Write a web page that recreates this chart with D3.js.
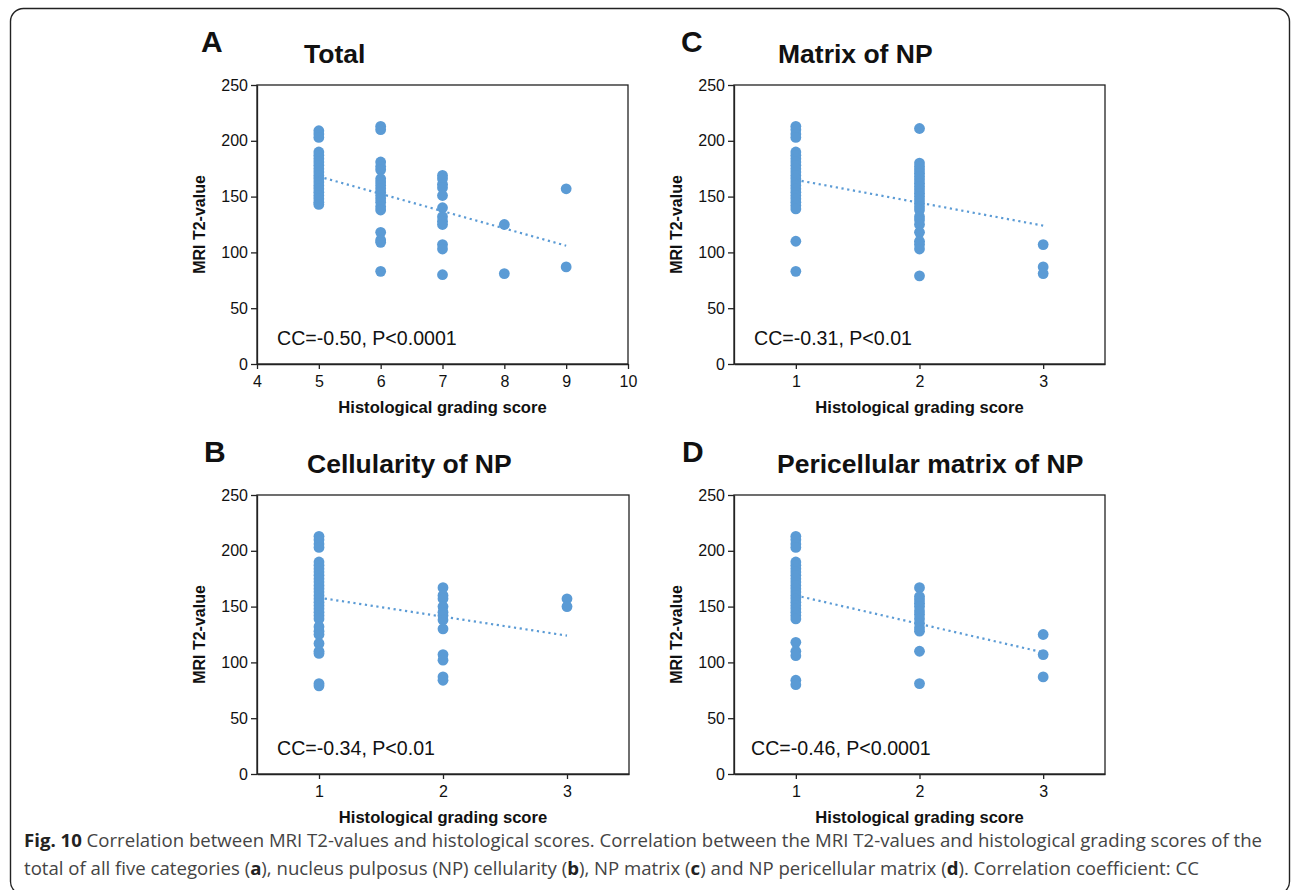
<!DOCTYPE html>
<html>
<head>
<meta charset="utf-8">
<script src="https://cdn.jsdelivr.net/npm/d3@7"></script>
<style>
  body { margin: 0; background: #fff; }
  svg text { font-family: Arial, "Liberation Sans", sans-serif; }
</style>
</head>
<body>
<div id="figure"></div>
<script>
// data: T2 values grouped by grading score

var totalScores = [5, 6, 7, 8, 9];
var totalT2 = [
  [209, 206, 203, 190, 187, 184, 181, 178, 175, 172, 169, 166, 163, 160, 157, 154, 151, 148, 145, 143],
  [213, 210, 181, 177, 174, 166, 163, 160, 157, 154, 151, 148, 145, 141, 138, 118, 111, 109, 83],
  [169, 166, 161, 158, 151, 140, 132, 128, 125, 107, 103, 80],
  [125, 81],
  [157, 87]
];
var totalTrend = [[5, 168], [9, 106]];

var matrixScores = [1, 2, 3];
var matrixT2 = [
  [213, 210, 206, 203, 190, 187, 184, 181, 178, 175, 172, 169, 166, 163, 160, 157, 154, 151, 148, 145, 142, 139, 110, 83],
  [211, 180, 177, 174, 171, 168, 165, 162, 159, 156, 153, 150, 147, 144, 141, 138, 132, 129, 125, 118, 110, 107, 103, 79],
  [107, 87, 81]
];
var matrixTrend = [[1, 165], [3, 124]];

var cellScores = [1, 2, 3];
var cellT2 = [
  [213, 210, 206, 203, 190, 187, 184, 181, 178, 175, 172, 169, 166, 163, 160, 157, 154, 151, 148, 145, 142, 139, 132, 128, 125, 117, 110, 108, 81, 79],
  [167, 160, 157, 150, 145, 142, 138, 130, 107, 102, 87, 84],
  [157, 150]
];
var cellTrend = [[1, 158], [3, 124]];

var periScores = [1, 2, 3];
var periT2 = [
  [213, 210, 206, 203, 190, 187, 184, 181, 178, 175, 172, 169, 166, 163, 160, 157, 154, 151, 148, 145, 142, 139, 118, 110, 106, 84, 80],
  [167, 159, 156, 153, 150, 146, 143, 139, 135, 131, 128, 110, 81],
  [125, 107, 87]
];
var periTrend = [[1, 160], [3, 109]];

var yTicks = [0, 50, 100, 150, 200, 250];
var totalTicks = [4, 5, 6, 7, 8, 9, 10];
var gradeTicks = [1, 2, 3];

var panels = [
  { letter: "A", title: "Total", scores: totalScores, t2: totalT2, trend: totalTrend,
    xDomain: [4, 10], xTicks: totalTicks, note: "CC=-0.50, P<0.0001",
    left: 257, top: 85, width: 371, height: 279, letterX: 201, titleX: 304, noteX: 277 },
  { letter: "C", title: "Matrix of NP", scores: matrixScores, t2: matrixT2, trend: matrixTrend,
    xDomain: [0.5, 3.5], xTicks: gradeTicks, note: "CC=-0.31, P<0.01",
    left: 734, top: 85, width: 371, height: 279, letterX: 681, titleX: 778, noteX: 754 },
  { letter: "B", title: "Cellularity of NP", scores: cellScores, t2: cellT2, trend: cellTrend,
    xDomain: [0.5, 3.5], xTicks: gradeTicks, note: "CC=-0.34, P<0.01",
    left: 257, top: 495, width: 372, height: 279, letterX: 204, titleX: 307, noteX: 277 },
  { letter: "D", title: "Pericellular matrix of NP", scores: periScores, t2: periT2, trend: periTrend,
    xDomain: [0.5, 3.5], xTicks: gradeTicks, note: "CC=-0.46, P<0.0001",
    left: 734, top: 495, width: 371, height: 279, letterX: 682, titleX: 777, noteX: 751 }
];

var svgWidth = 1292;
var svgHeight = 890;
var blue = "#5b9bd5";
var ink = "#222";

var svg = d3.select("#figure")
  .append("svg")
  .attr("width", svgWidth)
  .attr("height", svgHeight);

// outer rounded frame
svg.append("rect")
  .attr("x", 10.5)
  .attr("y", 8.5)
  .attr("width", 1279)
  .attr("height", 886)
  .attr("rx", 13)
  .attr("fill", "none")
  .attr("stroke", ink)
  .attr("stroke-width", 1.4);

panels.forEach(function(p) {
  var g = svg.append("g")
    .attr("transform", `translate(${p.left}, ${p.top})`);

  var x = d3.scaleLinear().domain(p.xDomain).range([0, p.width]);
  var y = d3.scaleLinear().domain([0, 250]).range([p.height, 0]);

  // plot area border
  g.append("rect")
    .attr("width", p.width)
    .attr("height", p.height)
    .attr("fill", "none")
    .attr("stroke", ink)
    .attr("stroke-width", 1.3);

  var leftAxis = d3.axisLeft(y).tickValues(yTicks).tickSize(6).tickSizeOuter(0).tickPadding(3);
  var bottomAxis = d3.axisBottom(x).tickValues(p.xTicks).tickFormat(d3.format("d"))
    .tickSize(5).tickSizeOuter(0).tickPadding(7);

  var ya = g.append("g").call(leftAxis);
  var xa = g.append("g")
    .attr("transform", `translate(0, ${p.height})`)
    .call(bottomAxis);

  [ya, xa].forEach(function(a) {
    a.select(".domain").attr("stroke", ink).attr("stroke-width", 1.3);
    a.selectAll(".tick line").attr("stroke", ink).attr("stroke-width", 1.3);
    a.selectAll(".tick text")
      .attr("fill", "#111")
      .style("font-size", "16px")
      .style("font-family", "Arial, 'Liberation Sans', sans-serif");
  });

  // points
  var pts = [];
  p.scores.forEach(function(s, i) {
    p.t2[i].forEach(function(v) { pts.push({ score: s, t2: v }); });
  });

  g.selectAll("circle")
    .data(pts)
    .enter()
      .append("circle")
    .attr("cx", d => x(d.score))
    .attr("cy", d => y(d.t2))
    .attr("r", 5.4)
    .attr("fill", blue);

  // dotted trend line
  g.append("path")
    .datum(p.trend)
    .attr("d", d3.line().x(d => x(d[0])).y(d => y(d[1])))
    .attr("fill", "none")
    .attr("stroke", blue)
    .attr("stroke-width", 2.2)
    .attr("stroke-dasharray", "2.2,3.6");

  // correlation note
  g.append("text")
    .attr("x", p.noteX - p.left)
    .attr("y", p.height - 19)
    .style("font-size", "19.6px")
    .attr("fill", "#111")
    .text(p.note);

  // axis labels
  g.append("text")
    .attr("transform", "rotate(-90)")
    .attr("x", -p.height / 2)
    .attr("y", -52)
    .attr("text-anchor", "middle")
    .style("font-size", "16px")
    .style("font-weight", "bold")
    .attr("fill", "#111")
    .text("MRI T2-value");

  g.append("text")
    .attr("x", p.width / 2)
    .attr("y", p.height + 49)
    .attr("text-anchor", "middle")
    .style("font-size", "16.6px")
    .style("font-weight", "bold")
    .attr("fill", "#111")
    .text("Histological grading score");

  // panel letter and title
  svg.append("text")
    .attr("x", p.letterX)
    .attr("y", p.top - 33)
    .style("font-size", "30px")
    .style("font-weight", "bold")
    .attr("fill", "#111")
    .text(p.letter);

  svg.append("text")
    .attr("x", p.titleX)
    .attr("y", p.top - 22)
    .style("font-size", "26.5px")
    .style("font-weight", "bold")
    .attr("fill", "#111")
    .text(p.title);
});

// caption
var capFont = "'Open Sans', 'Noto Sans', sans-serif";
var line1 = [["Fig. 10", true], [" Correlation between MRI T2-values and histological scores. Correlation between the MRI T2-values and histological grading scores of the", false]];
var line2 = [["total of all five categories (", false], ["a", true], ["), nucleus pulposus (NP) cellularity (", false], ["b", true], ["), NP matrix (", false], ["c", true], [") and NP pericellular matrix (", false], ["d", true], ["). Correlation coefficient: CC", false]];

function captionLine(parts, yPos) {
  var t = svg.append("text")
    .attr("x", 24)
    .attr("y", yPos)
    .style("font-family", capFont)
    .style("font-size", "18px")
    .attr("fill", "#444");
  parts.forEach(function(pt) {
    t.append("tspan")
      .style("font-weight", pt[1] ? "bold" : "normal")
      .attr("fill", pt[1] ? "#222" : "#444")
      .text(pt[0]);
  });
  return t;
}

var c1 = captionLine(line1, 847);
var c2 = captionLine(line2, 875);
// scale caption font so the first line spans the figure width
var w1 = c1.node().getComputedTextLength();
var size = 18 * 1239 / w1;
c1.style("font-size", size + "px");
c2.style("font-size", size + "px");
</script>
</body>
</html>
